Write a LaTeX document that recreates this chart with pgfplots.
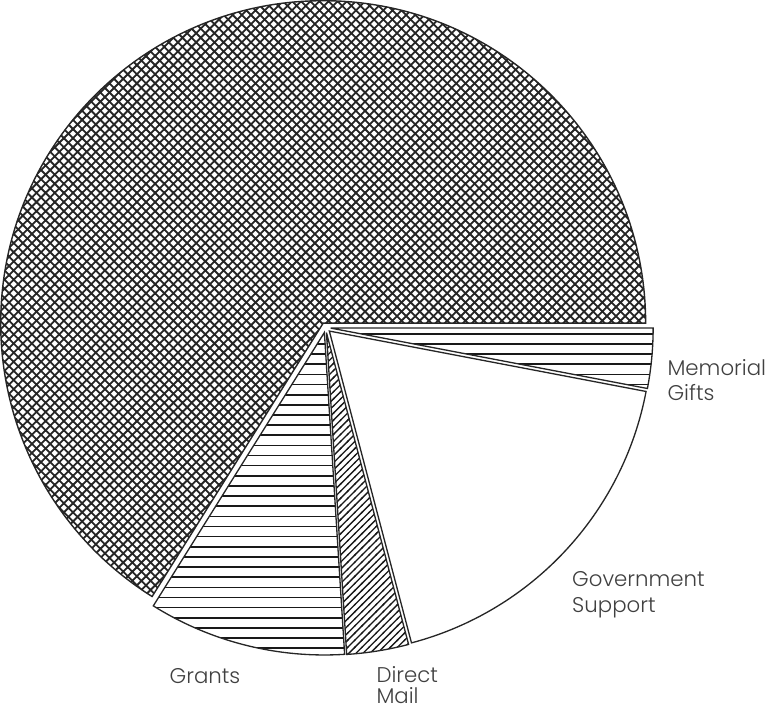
\documentclass[border=0pt]{standalone}
\usepackage{pgfplots}
\pgfplotsset{compat=1.18}
\usepackage{pgfplotstable}
\usetikzlibrary{patterns}
\usepackage{fontspec}
\setmainfont{Poppins Light}

\pgfdeclarepatternformonly{diamondhatch}{\pgfpoint{-1pt}{-1pt}}{\pgfpoint{10pt}{10pt}}{\pgfpoint{9pt}{9pt}}{%
  \pgfsetlinewidth{1.8pt}%
  \pgfpathmoveto{\pgfpoint{-1pt}{-1pt}}\pgfpathlineto{\pgfpoint{10pt}{10pt}}%
  \pgfpathmoveto{\pgfpoint{-1pt}{10pt}}\pgfpathlineto{\pgfpoint{10pt}{-1pt}}%
  \pgfusepath{stroke}}
\pgfdeclarepatternformonly{hlines}{\pgfpoint{-1pt}{-1pt}}{\pgfpoint{2pt}{10pt}}{\pgfpoint{1pt}{10pt}}{%
  \pgfsetlinewidth{1.6pt}%
  \pgfpathmoveto{\pgfpoint{-1pt}{5pt}}\pgfpathlineto{\pgfpoint{2pt}{5pt}}%
  \pgfusepath{stroke}}
\pgfdeclarepatternformonly{dlines}{\pgfpoint{-1pt}{-1pt}}{\pgfpoint{8pt}{8pt}}{\pgfpoint{7pt}{7pt}}{%
  \pgfsetlinewidth{1.3pt}%
  \pgfpathmoveto{\pgfpoint{-1pt}{-1pt}}\pgfpathlineto{\pgfpoint{8pt}{8pt}}%
  \pgfusepath{stroke}}

\pgfplotstableread{
name value
Other 66.1
Grants 9.9
DirectMail 3.1
Government 17.9
Memorial 3.0
}\piedata

\def\CX{321}
\def\CY{385}
\def\R{318}

\newcommand\pieslice[4]{%
  \pgfmathsetmacro\pmid{(#1+#2)/2}%
  \pgfmathsetmacro\pcx{\CX+#4*cos(\pmid)}%
  \pgfmathsetmacro\pcy{\CY+#4*sin(\pmid)}%
  \edef\pietemp{\noexpand\filldraw[#3] (axis cs:\pcx,\pcy) -- ++(#1:\R pt) arc[start angle=#1, end angle=#2, radius=\R pt] -- cycle;}%
  \pietemp}

\begin{document}
\begin{tikzpicture}
\pgfplotstablegetelem{0}{value}\of\piedata \pgfmathsetmacro\aA{3.6*\pgfplotsretval}
\pgfplotstablegetelem{1}{value}\of\piedata \pgfmathsetmacro\aB{\aA+3.6*\pgfplotsretval}
\pgfplotstablegetelem{2}{value}\of\piedata \pgfmathsetmacro\aC{\aB+3.6*\pgfplotsretval}
\pgfplotstablegetelem{3}{value}\of\piedata \pgfmathsetmacro\aD{\aC+3.6*\pgfplotsretval}
\pgfplotstablegetelem{4}{value}\of\piedata \pgfmathsetmacro\aE{\aD+3.6*\pgfplotsretval}
\begin{axis}[hide axis, x=1pt, y=1pt, xmin=0, xmax=766, ymin=0, ymax=712, clip=false]
\pieslice{0}{\aA}{draw=black!85, line width=1.4pt, pattern=diamondhatch, pattern color=black!85}{5}
\pieslice{\aA}{\aB}{draw=black!85, line width=1.3pt, pattern=hlines, pattern color=black!90}{5}
\pieslice{\aB}{\aC}{draw=black!85, line width=1.3pt, pattern=dlines, pattern color=black!90}{5}
\pieslice{\aC}{\aD}{draw=black!85, line width=1.3pt, fill=white}{5}
\pieslice{\aD}{\aE}{draw=black!85, line width=1.3pt, pattern=hlines, pattern color=black!90}{5}
\node[anchor=base west, font=\fontsize{21}{25}\selectfont, text=black!75, inner sep=0pt] at (axis cs:658,338) {Memorial};
\node[anchor=base west, font=\fontsize{21}{25}\selectfont, text=black!75, inner sep=0pt] at (axis cs:658,313) {Gifts};
\node[anchor=base west, font=\fontsize{21}{25}\selectfont, text=black!75, inner sep=0pt] at (axis cs:564,130) {Government};
\node[anchor=base west, font=\fontsize{21}{25}\selectfont, text=black!75, inner sep=0pt] at (axis cs:564,104) {Support};
\node[anchor=base west, font=\fontsize{21}{25}\selectfont, text=black!75, inner sep=0pt] at (axis cs:167,34) {Grants};
\node[anchor=base west, font=\fontsize{21}{25}\selectfont, text=black!75, inner sep=0pt] at (axis cs:371,35) {Direct};
\node[anchor=base west, font=\fontsize{21}{25}\selectfont, text=black!75, inner sep=0pt] at (axis cs:371,14) {Mail};
\end{axis}
\end{tikzpicture}
\end{document}
